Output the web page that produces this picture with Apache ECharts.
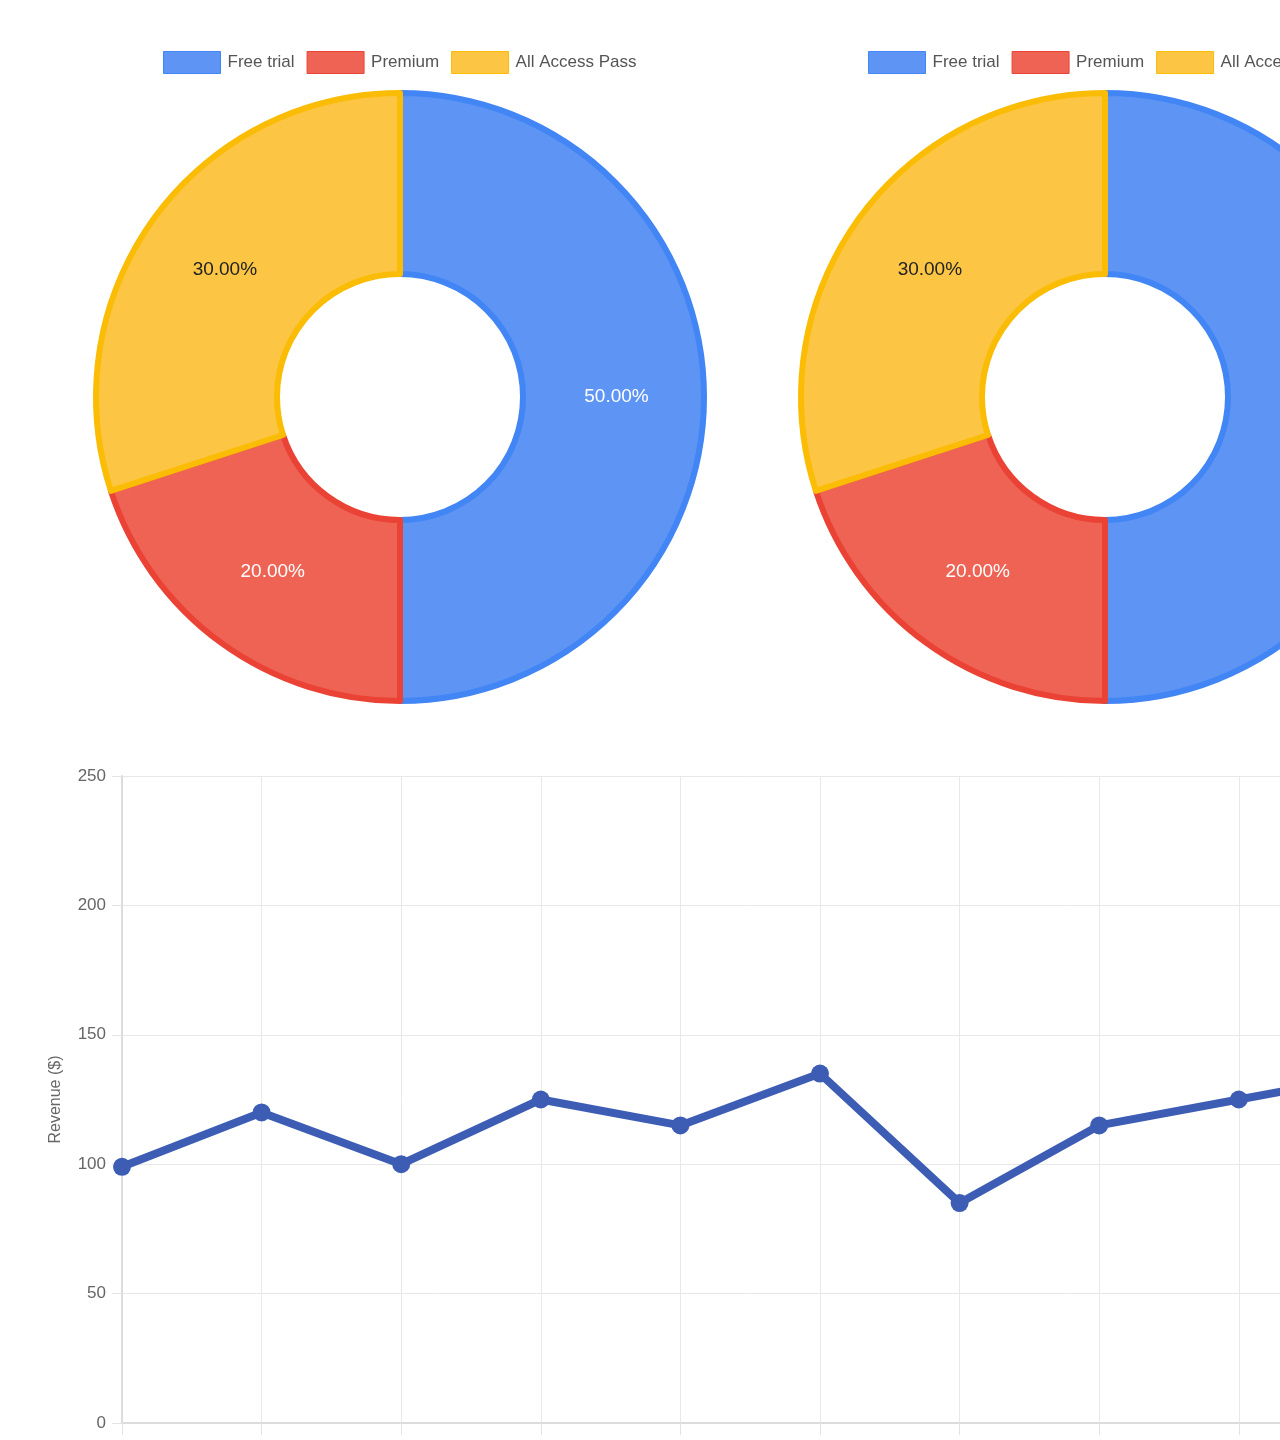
<!DOCTYPE html>
<html>
<head>
<meta charset="utf-8">
<script src="https://cdn.jsdelivr.net/npm/echarts@6/dist/echarts.min.js"></script>
<style>
    html, body { margin: 0; padding: 0; background: #fff; overflow: hidden; }
    #main { width: 1540px; height: 1500px; }
</style>
</head>
<body>
<div id="main"></div>
<script>
// 订阅类型
var plans = ['Free trial', 'Premium', 'All Access Pass'];
var planShares = [50, 20, 30];
var planFill = ['#5e95f4', '#ef6355', '#fcc644'];
var planBorder = ['#4285f4', '#ea4335', '#fbbc05'];
var labelColors = ['#fff', '#fff', '#222'];

// 收入折线
var months = ['Jan', 'Feb', 'Mar', 'Apr', 'May', 'Jun', 'Jul', 'Aug', 'Sep', 'Oct'];
var revenue = [99, 120, 100, 125, 115, 135, 85, 115, 125, 135];
var revenueTicks = { min: 0, max: 250, step: 50 };

var font = '"Helvetica Neue", "Liberation Sans", Arial, sans-serif';

var chart = echarts.init(document.getElementById('main'));

function pieData() {
    return plans.map(function (name, i) {
        return {
            name: name,
            value: planShares[i],
            itemStyle: { color: planFill[i], borderColor: planBorder[i] },
            label: { color: labelColors[i] }
        };
    });
}

function donut(cx) {
    return {
        type: 'pie',
        center: [cx, 397],
        radius: [123, 304],
        startAngle: 90,
        clockwise: true,
        silent: true,
        animation: false,
        itemStyle: { borderWidth: 6 },
        label: {
            show: true,
            position: 'inside',
            fontFamily: font,
            fontSize: 19,
            formatter: function (p) { return p.value.toFixed(2) + '%'; }
        },
        labelLine: { show: false },
        data: pieData()
    };
}

function legend(x) {
    return {
        left: x,
        top: 46,
        orient: 'horizontal',
        width: 800,
        itemWidth: 57,
        itemHeight: 22,
        itemGap: 12,
        icon: 'rect',
        textStyle: { color: '#555', fontSize: 17, fontFamily: font, padding: [0, 0, 0, 2] },
        data: plans.map(function (name, i) {
            return { name: name, itemStyle: { color: planFill[i], borderColor: planBorder[i], borderWidth: 1 } };
        })
    };
}

var option = {
    animation: false,
    legend: [legend(158), legend(863)],
    grid: {
        left: 122,
        top: 776,
        width: 139.6 * (months.length - 1),
        height: 647
    },
    xAxis: {
        type: 'category',
        data: months,
        boundaryGap: false,
        axisLine: { lineStyle: { color: '#dcdcdc', width: 2 } },
        axisTick: { show: true, length: 12, lineStyle: { color: '#e3e3e3' } },
        axisLabel: { color: '#666', fontSize: 17, fontFamily: font, margin: 20 },
        splitLine: { show: true, lineStyle: { color: '#e8e8e8', width: 1 } }
    },
    yAxis: {
        type: 'value',
        min: revenueTicks.min,
        max: revenueTicks.max,
        interval: revenueTicks.step,
        name: 'Revenue ($)',
        nameLocation: 'middle',
        nameGap: 58,
        nameTextStyle: { color: '#666', fontSize: 16, fontFamily: font },
        axisLine: { show: true, lineStyle: { color: '#dcdcdc', width: 2 } },
        axisTick: { show: true, length: 10, lineStyle: { color: '#e3e3e3' } },
        axisLabel: { color: '#666', fontSize: 17, fontFamily: font, margin: 16 },
        splitLine: { show: true, lineStyle: { color: '#e8e8e8', width: 1 } }
    },
    series: [
        donut(400),
        donut(1105),
        {
            type: 'line',
            data: revenue,
            symbol: 'circle',
            symbolSize: 18,
            lineStyle: { color: '#3d5db5', width: 8 },
            itemStyle: { color: '#3d5db5' }
        }
    ]
};

chart.setOption(option);
</script>
</body>
</html>
